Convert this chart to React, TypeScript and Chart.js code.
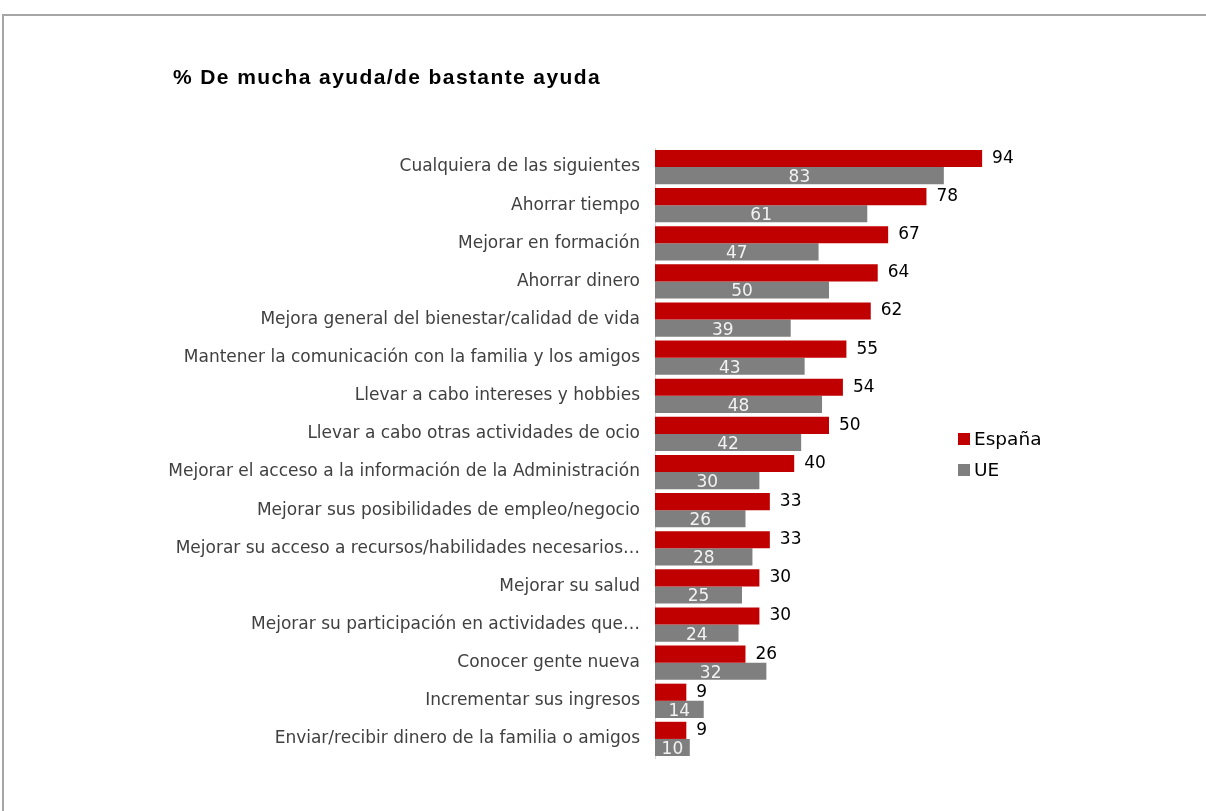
import React, { useEffect, useRef } from "react";
import { Chart, registerables } from "chart.js";

Chart.register(...registerables);

const categories = [
  "Cualquiera de las siguientes",
  "Ahorrar tiempo",
  "Mejorar en formación",
  "Ahorrar dinero",
  "Mejora general del bienestar/calidad de vida",
  "Mantener la comunicación con la familia y los amigos",
  "Llevar a cabo intereses y hobbies",
  "Llevar a cabo otras actividades de ocio",
  "Mejorar el acceso a la información de la Administración",
  "Mejorar sus posibilidades de empleo/negocio",
  "Mejorar su acceso a recursos/habilidades necesarios…",
  "Mejorar su salud",
  "Mejorar su participación en actividades que…",
  "Conocer gente nueva",
  "Incrementar sus ingresos",
  "Enviar/recibir dinero de la familia o amigos",
];
const espana = [94, 78, 67, 64, 62, 55, 54, 50, 40, 33, 33, 30, 30, 26, 9, 9];
const ue = [83, 61, 47, 50, 39, 43, 48, 42, 30, 26, 28, 25, 24, 32, 14, 10];
const seriesNames = ["España", "UE"];
const seriesColors = ["#c00000", "#7f7f7f"];
const title = "% De mucha ayuda/de bastante ayuda";

const FONT = "'DejaVu Sans', Verdana, sans-serif";

const labelsPlugin = {
  id: "valueLabels",
  afterDatasetsDraw(chart: any) {
    const ctx = chart.ctx;
    ctx.save();
    ctx.textBaseline = "middle";
    chart.data.datasets.forEach((ds: any, di: number) => {
      const meta = chart.getDatasetMeta(di);
      meta.data.forEach((bar: any, i: number) => {
        const v = ds.data[i];
        ctx.font = `17px ${FONT}`;
        if (di === 0) {
          ctx.fillStyle = "#000000";
          ctx.textAlign = "left";
          ctx.fillText(String(v), bar.x + 10, bar.y);
        } else {
          ctx.fillStyle = "#f2f2f2";
          ctx.textAlign = "center";
          ctx.fillText(String(v), (bar.base + bar.x) / 2, bar.y + 2);
        }
      });
    });
    ctx.restore();
  },
};

export default function App() {
  const ref = useRef<HTMLCanvasElement>(null);
  useEffect(() => {
    const chart = new Chart(ref.current!, {
      type: "bar",
      data: {
        labels: categories,
        datasets: [
          { label: seriesNames[0], data: espana, backgroundColor: seriesColors[0], categoryPercentage: 0.9, barPercentage: 1 },
          { label: seriesNames[1], data: ue, backgroundColor: seriesColors[1], categoryPercentage: 0.9, barPercentage: 1 },
        ],
      },
      options: {
        indexAxis: "y",
        animation: false,
        responsive: false,
        maintainAspectRatio: false,
        layout: { padding: { left: 0, right: 203, top: 148, bottom: 53 } },
        plugins: { legend: { display: false }, tooltip: { enabled: false }, title: { display: false } },
        scales: {
          x: { display: false, min: 0, max: 100 },
          y: {
            grid: { display: false, drawTicks: false },
            border: { display: true, color: "#d9d9d9", width: 1 },
            ticks: { color: "#404040", font: { family: FONT, size: 17 }, padding: 15, autoSkip: false },
            afterFit: (s: any) => { s.width = 655; },
          },
        },
      },
      plugins: [labelsPlugin],
    });
    return () => chart.destroy();
  }, []);

  return (
    <div style={{ position: "absolute", left: 0, top: 0, width: 1206, height: 811, overflow: "hidden", background: "#fff" }}>
      <div style={{ position: "absolute", left: 2, top: 14, width: 1400, height: 1000, border: "2px solid #a6a6a6" }} />
      <canvas ref={ref} width={1206} height={811} style={{ position: "absolute", left: 0, top: 0 }} />
      <div style={{ position: "absolute", left: 173, top: 65, font: `bold 21px 'Liberation Sans', Arial, sans-serif`, letterSpacing: "1.4px", color: "#000", whiteSpace: "nowrap" }}>
        {title}
      </div>
      {seriesNames.map((n, i) => (
        <div key={n} style={{ position: "absolute", left: 958, top: 428 + i * 31, display: "flex", alignItems: "center", font: `18.5px ${FONT}`, color: "#000" }}>
          <span style={{ display: "inline-block", width: 12, height: 12, background: seriesColors[i], marginRight: 4 }} />
          <span>{n}</span>
        </div>
      ))}
    </div>
  );
}
